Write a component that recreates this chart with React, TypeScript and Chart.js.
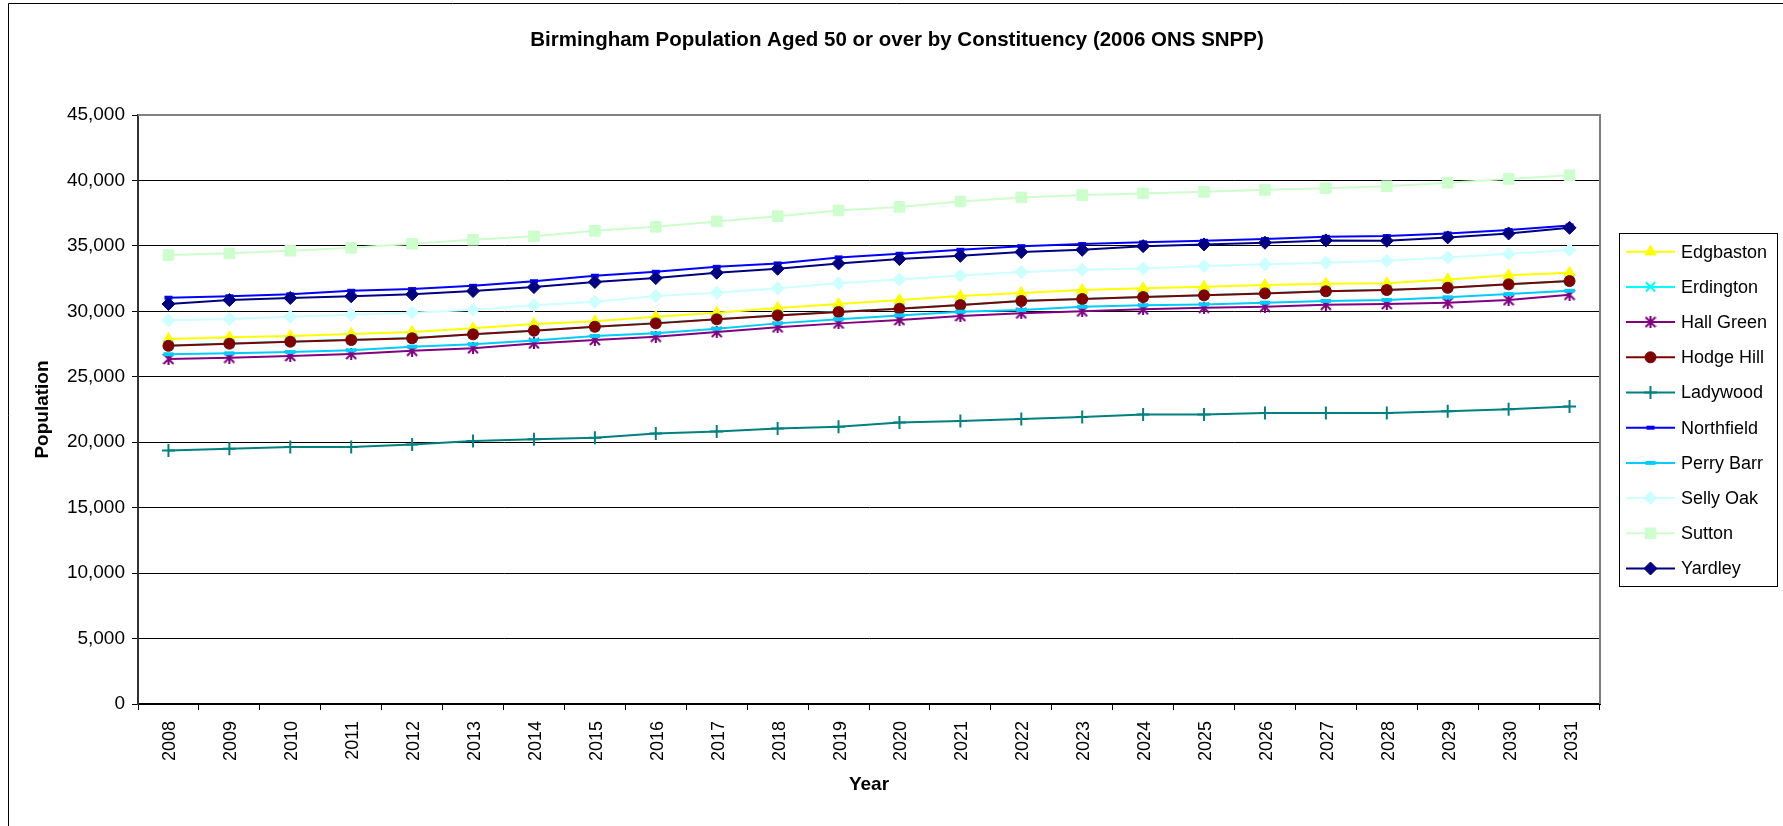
import React, { useEffect, useRef } from 'react';
import { Chart, registerables } from 'chart.js';
import { drawPoint } from 'chart.js/helpers';

Chart.register(...registerables);

const chartTitle = 'Birmingham Population Aged 50 or over by Constituency (2006 ONS SNPP)';
const xTitle = 'Year';
const yTitle = 'Population';

const years = ['2008', '2009', '2010', '2011', '2012', '2013', '2014', '2015', '2016', '2017', '2018', '2019',
  '2020', '2021', '2022', '2023', '2024', '2025', '2026', '2027', '2028', '2029', '2030', '2031'];

const edgbaston = [27890, 28020, 28110, 28270, 28420, 28700, 29030, 29240, 29590, 29890, 30250, 30560,
  30860, 31170, 31400, 31630, 31760, 31880, 32010, 32110, 32140, 32440, 32750, 32950];
const erdington = [27390, 27540, 27700, 27820, 27960, 28250, 28540, 28830, 29100, 29400, 29700, 29960,
  30210, 30490, 30800, 30950, 31100, 31230, 31380, 31540, 31640, 31810, 32070, 32320];
const hallGreen = [26360, 26460, 26590, 26740, 26990, 27180, 27550, 27810, 28060, 28420, 28780, 29080,
  29340, 29640, 29850, 30000, 30150, 30270, 30350, 30500, 30560, 30660, 30860, 31270];
const hodgeHill = [27370, 27530, 27680, 27810, 27940, 28240, 28520, 28820, 29080, 29390, 29690, 29950,
  30200, 30480, 30790, 30940, 31090, 31220, 31370, 31530, 31630, 31800, 32060, 32310];
const ladywood = [19360, 19510, 19640, 19640, 19820, 20100, 20230, 20350, 20660, 20810, 21040, 21190,
  21500, 21630, 21780, 21930, 22110, 22110, 22240, 22240, 22240, 22370, 22510, 22720];
const northfield = [31040, 31150, 31300, 31570, 31700, 31950, 32300, 32720, 33020, 33400, 33660, 34120,
  34400, 34700, 34980, 35140, 35270, 35390, 35520, 35690, 35750, 35950, 36210, 36560];
const perryBarr = [26720, 26790, 26890, 27020, 27300, 27480, 27780, 28110, 28320, 28670, 29080, 29390,
  29690, 29970, 30100, 30350, 30460, 30530, 30660, 30790, 30860, 31070, 31320, 31570];
const sellyOak = [29310, 29410, 29590, 29740, 29890, 30120, 30460, 30730, 31170, 31420, 31760, 32140,
  32440, 32730, 33000, 33180, 33280, 33460, 33590, 33710, 33860, 34120, 34400, 34680];
const sutton = [34300, 34430, 34630, 34850, 35160, 35470, 35730, 36150, 36460, 36870, 37270, 37710,
  37980, 38400, 38700, 38880, 39010, 39130, 39280, 39410, 39560, 39820, 40120, 40400];
const yardley = [30560, 30860, 31020, 31150, 31300, 31550, 31850, 32240, 32540, 32950, 33250, 33660,
  33990, 34240, 34530, 34700, 34980, 35110, 35240, 35420, 35390, 35650, 35950, 36380];

const seriesNames = ['Edgbaston', 'Erdington', 'Hall Green', 'Hodge Hill', 'Ladywood', 'Northfield',
  'Perry Barr', 'Selly Oak', 'Sutton', 'Yardley'];
const seriesData = [edgbaston, erdington, hallGreen, hodgeHill, ladywood, northfield, perryBarr, sellyOak, sutton, yardley];
const seriesColors = ['#FFFF00', '#00FFFF', '#800080', '#800000', '#008080', '#0000FF', '#00CCFF', '#CCFFFF', '#CCFFCC', '#000080'];

const yTickValues = [0, 5000, 10000, 15000, 20000, 25000, 30000, 35000, 40000, 45000];

const FONT = "'Liberation Sans', Arial, sans-serif";

function makeAsterisk(color: string): HTMLCanvasElement {
  const c = document.createElement('canvas');
  c.width = 12;
  c.height = 12;
  const g = c.getContext('2d')!;
  g.strokeStyle = color;
  g.lineWidth = 2;
  g.beginPath();
  g.moveTo(6, 0); g.lineTo(6, 12);
  g.moveTo(1, 1); g.lineTo(11, 11);
  g.moveTo(11, 1); g.lineTo(1, 11);
  g.stroke();
  return c;
}

export default function App() {
  const ref = useRef<HTMLCanvasElement | null>(null);

  useEffect(() => {
    const canvas = ref.current;
    if (!canvas) return;
    const asterisk = makeAsterisk(seriesColors[2]);
    const markerStyles: any[] = [
      { pointStyle: 'triangle', radius: 6.5, borderWidth: 1 },
      { pointStyle: 'crossRot', radius: 6.5, borderWidth: 2 },
      { pointStyle: asterisk, radius: 6, borderWidth: 2 },
      { pointStyle: 'circle', radius: 5.5, borderWidth: 1 },
      { pointStyle: 'cross', radius: 6.5, borderWidth: 2 },
      { pointStyle: 'line', radius: 4, borderWidth: 4 },
      { pointStyle: 'line', radius: 5, borderWidth: 4 },
      { pointStyle: 'rectRot', radius: 6.5, borderWidth: 1 },
      { pointStyle: 'rect', radius: 7.5, borderWidth: 1 },
      { pointStyle: 'rectRot', radius: 6.5, borderWidth: 1 },
    ];

    const datasets = seriesNames.map((name, i) => ({
      label: name,
      data: seriesData[i],
      borderColor: seriesColors[i],
      backgroundColor: seriesColors[i],
      borderWidth: 2,
      pointStyle: markerStyles[i].pointStyle,
      pointRadius: markerStyles[i].radius,
      pointBorderWidth: markerStyles[i].borderWidth,
      pointBackgroundColor: seriesColors[i],
      pointBorderColor: seriesColors[i],
      tension: 0,
      order: seriesNames.length - i,
    }));

    const framePlugin = {
      id: 'frame',
      beforeDraw(chart: any) {
        const ctx = chart.ctx;
        ctx.save();
        ctx.fillStyle = '#ffffff';
        ctx.fillRect(0, 0, chart.width, chart.height);
        ctx.strokeStyle = '#000000';
        ctx.lineWidth = 1;
        ctx.beginPath();
        ctx.moveTo(8.5, chart.height + 5);
        ctx.lineTo(8.5, 3.5);
        ctx.lineTo(chart.width + 5, 3.5);
        ctx.stroke();
        ctx.restore();
      },
      beforeDatasetsDraw(chart: any) {
        const { ctx, chartArea } = chart;
        ctx.save();
        ctx.strokeStyle = '#808080';
        ctx.lineWidth = 2;
        ctx.beginPath();
        ctx.moveTo(chartArea.left, chartArea.top);
        ctx.lineTo(chartArea.right, chartArea.top);
        ctx.lineTo(chartArea.right, chartArea.bottom);
        ctx.stroke();
        ctx.restore();
      },
      afterDraw(chart: any) {
        const ctx = chart.ctx;
        ctx.save();
        // title
        ctx.fillStyle = '#000';
        ctx.font = `bold 20.5px ${FONT}`;
        ctx.textAlign = 'center';
        ctx.textBaseline = 'middle';
        ctx.fillText(chartTitle, 897, 40);
        // legend
        const bx = 1619.5, by = 233.5, bw = 158, bh = 353;
        ctx.fillStyle = '#fff';
        ctx.fillRect(bx, by, bw, bh);
        ctx.strokeStyle = '#000';
        ctx.lineWidth = 1;
        ctx.strokeRect(bx, by, bw, bh);
        chart.data.datasets.forEach((ds: any, i: number) => {
          const y = 251.7 + i * 35.2;
          ctx.strokeStyle = ds.borderColor;
          ctx.lineWidth = 2;
          ctx.beginPath();
          ctx.moveTo(1626, y);
          ctx.lineTo(1675, y);
          ctx.stroke();
          ctx.fillStyle = ds.pointBackgroundColor;
          ctx.strokeStyle = ds.pointBorderColor;
          ctx.lineWidth = ds.pointBorderWidth;
          drawPoint(ctx, { pointStyle: ds.pointStyle, rotation: 0, radius: ds.pointRadius, borderWidth: ds.pointBorderWidth }, 1650.5, y);
          ctx.fillStyle = '#000';
          ctx.font = `18px ${FONT}`;
          ctx.textAlign = 'left';
          ctx.textBaseline = 'middle';
          ctx.fillText(ds.label, 1681, y + 1);
        });
        ctx.restore();
      },
    };

    const chart = new Chart(canvas, {
      type: 'line',
      data: { labels: years, datasets },
      options: {
        responsive: false,
        animation: false,
        events: [],
        layout: { padding: { left: 0, top: 115, right: 183, bottom: 0 } },
        plugins: {
          legend: { display: false },
          title: { display: false },
          tooltip: { enabled: false },
        },
        scales: {
          x: {
            type: 'category',
            offset: true,
            grid: { display: true, drawOnChartArea: false, drawTicks: true, tickLength: 6, color: '#000', offset: true },
            border: { display: true, color: '#000', width: 2 },
            ticks: {
              autoSkip: false, maxRotation: 90, minRotation: 90, padding: 11, color: '#000', labelOffset: 2,
              font: { family: FONT, size: 18 },
            },
            title: {
              display: true, text: xTitle, color: '#000',
              font: { family: FONT, size: 19, weight: 'bold' }, padding: { top: 0, bottom: 30 },
            },
            afterFit: (s: any) => { s.height = 122; },
          },
          y: {
            type: 'linear',
            min: yTickValues[0],
            max: yTickValues[yTickValues.length - 1],
            afterBuildTicks: (s: any) => { s.ticks = yTickValues.map((v) => ({ value: v })); },
            ticks: {
              padding: 7, color: '#000', font: { family: FONT, size: 19 },
              callback: (v: any) => Number(v).toLocaleString('en-US'),
            },
            grid: { color: '#000', lineWidth: 1, tickLength: 6, drawTicks: true },
            border: { display: true, color: '#333', width: 2 },
            title: {
              display: true, text: yTitle, color: '#000',
              font: { family: FONT, size: 19, weight: 'bold' }, padding: { top: 31, bottom: 0 },
            },
            afterFit: (s: any) => { s.width = 138; },
          },
        },
      },
      plugins: [framePlugin],
    } as any);

    return () => { chart.destroy(); };
  }, []);

  return (
    <div style={{ position: 'fixed', left: 0, top: 0, width: 1783, height: 826, background: '#fff', overflow: 'hidden' }}>
      <canvas ref={ref} width={1783} height={826} style={{ display: 'block', width: 1783, height: 826 }} />
    </div>
  );
}
